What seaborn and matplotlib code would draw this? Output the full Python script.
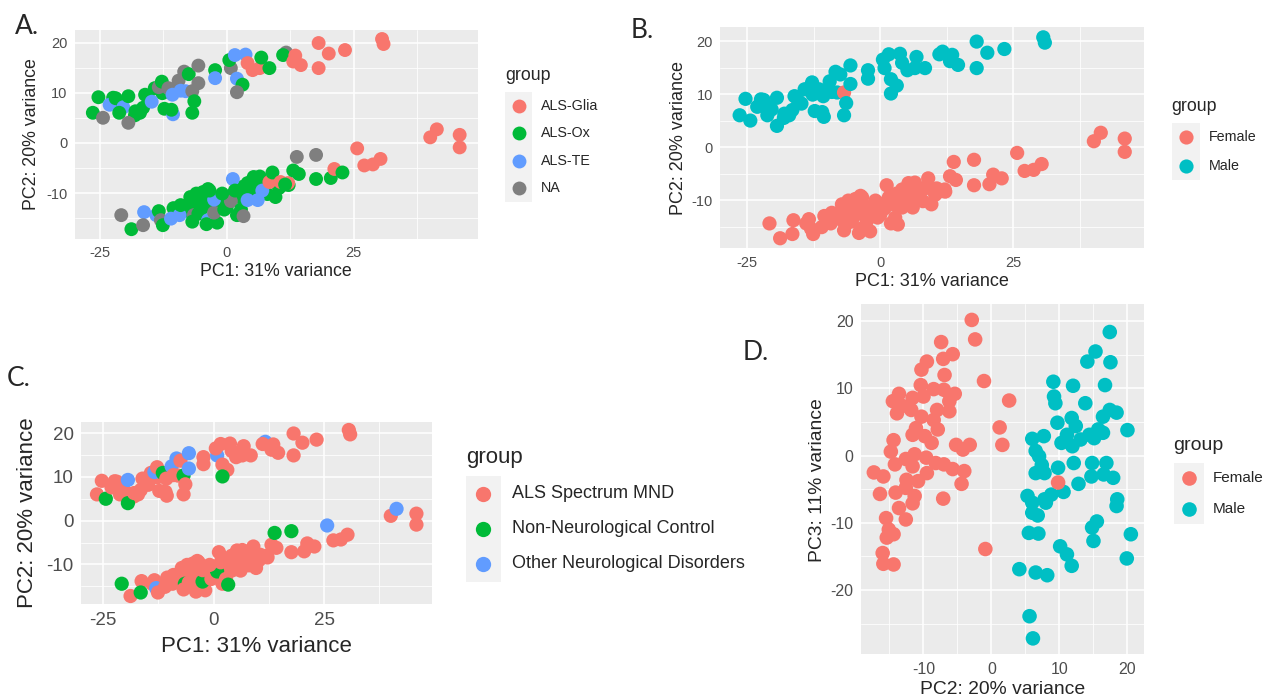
import matplotlib
matplotlib.use("Agg")
import matplotlib.pyplot as plt
import pandas as pd
import seaborn as sns
from matplotlib.patches import Rectangle
from matplotlib.lines import Line2D

# ---------------------------------------------------------------------------
# PCA scores (PC1 / PC2) of the samples, split by the two branches of the plot
# Codes: subgroup  G=ALS-Glia, O=ALS-Ox, T=ALS-TE, N=NA
#        diagnosis M=ALS Spectrum MND, C=Non-Neurological Control,
#                  D=Other Neurological Disorders
#        sex       m=Male, f=Female
# ---------------------------------------------------------------------------
upper_pc1 = [-22.4, -21.0, -18.1, -15.4, -14.2, -12.7, -10.3, -16.5,
             -26.4, -25.3, -24.4, -23.1, -21.9, -20.4, -21.2, -19.4, -19.4, -18.0,
             -17.1, -16.1, -14.8, -13.4, -12.8, -12.3, -11.5, -10.7, -10.6, -10.9,
             -9.5, -8.4, -7.5, -9.1, -8.1, -6.8, -6.4, -6.8, -5.6, -5.6,
             -2.3, -2.3, 0.8, 0.5, 1.6, 2.0, 3.1, 2.0, 3.7, 4.1,
             5.1, 6.5, 6.8, 8.4, 11.7, 11.1, 13.5, 13.1, 14.6, 18.1,
             18.1, 20.1, 23.3, 30.6, 30.9]
upper_pc2 = [9.0, 7.6, 5.5, 8.7, 10.9, 9.9, 10.5, 7.0,
             6.0, 9.1, 5.0, 7.6, 8.9, 7.1, 6.0, 9.3, 4.0, 6.3,
             6.0, 9.6, 8.2, 11.1, 12.2, 6.8, 10.9, 9.6, 5.7, 6.6,
             12.4, 14.2, 13.7, 10.4, 10.3, 10.3, 8.3, 6.0, 15.4, 11.9,
             14.5, 12.9, 14.9, 16.5, 17.5, 12.8, 11.6, 10.1, 17.6, 15.9,
             14.5, 14.9, 17.0, 14.9, 18.0, 17.5, 17.4, 16.2, 15.5, 19.9,
             14.9, 17.8, 18.5, 20.7, 19.7]
upper_subgroup = ("OOOOOOOO"
                  "OONTOTOONO"
                  "OOTNOONTTO"
                  "NNOTTNOONN"
                  "OTNOTTONTG"
                  "GGOONOGGGG"
                  "GGGGG")
upper_diagnosis = ("MMMMMMMM"
                   "MMCMMMMDCM"
                   "MMMDMMCMMM"
                   "DDMMMCMMDD"
                   "MMDMMMMCMM"
                   "MMMMDMMMMM"
                   "MMMMM")
upper_sex = ("mmmmmmmm"
             "mmmmmmmmmm"
             "mmmmmmmmmm"
             "mmmmmfmmmm"
             "mmmmmmmmmm"
             "mmmmmmmmmm"
             "mmmmm")

lower_pc1 = [-8.0, -6.0, -4.5, -3.0, -1.5, 0.0, 1.0, 2.5, 3.0, 4.5, 5.5,
             6.2, 7.2, -5.0, -7.5, -10.5, -3.7, 8.0, 10.3, 12.2, 2.0, 6.5,
             -20.8, -18.8, -16.3, -16.5, -13.9, -13.4, -13.0, -12.6, -11.0, -9.3,
             -9.1, -6.5, -6.8, -5.6, -3.7, -4.0, -1.9, -2.5, -2.5, -0.5,
             0.8, 2.8, 3.3, 1.2, 1.6, -7.2, -6.0, -4.7, -3.4, -0.9,
             4.1, 5.3, 5.9, 4.1, 6.1, 7.0, 8.4, 9.0, 10.6, 12.1,
             9.6, 11.5, 13.1, 14.2, 13.8, 17.6, 17.6, 20.5, 21.2, 22.8,
             25.7, 27.1, 28.8, 30.3, 40.1, 41.4, 45.9, 45.9]
lower_pc2 = [-12.5, -12.0, -11.5, -12.6, -12.0, -12.8, -10.5, -10.8, -8.8, -9.6, -10.2,
             -7.6, -8.6, -13.2, -13.6, -13.0, -9.2, -10.2, -9.0, -8.4, -14.4, -6.7,
             -14.4, -17.2, -13.8, -16.4, -14.4, -13.6, -15.4, -16.4, -15.1, -14.4,
             -12.4, -14.4, -15.7, -14.1, -15.4, -16.2, -15.9, -13.9, -11.3, -13.3,
             -11.6, -13.3, -14.6, -7.2, -9.5, -10.8, -10.1, -9.8, -9.5, -10.1,
             -8.0, -6.8, -8.5, -11.4, -11.4, -9.5, -7.8, -5.9, -7.8, -8.0,
             -10.8, -8.3, -5.5, -6.2, -2.8, -2.4, -7.2, -7.0, -5.2, -5.9,
             -1.1, -4.5, -4.3, -3.2, 1.1, 2.7, 1.6, -0.9]
lower_subgroup = ("OOOOOOOOOOO"
                  "OOOOOOOOOOO"
                  "NOTNTONOTT"
                  "ONOOTOONTO"
                  "NONTOOOOOO"
                  "OOOTTTGOGG"
                  "OOOONNOOGO"
                  "GGGGGGGG")
lower_diagnosis = ("MMMMMMMMMMM"
                   "MMMMMMMMMMM"
                   "CMMCMMDMMM"
                   "MCMMMMMCMM"
                   "CMCMMMMMMM"
                   "MMMMMMMMMM"
                   "MMMMCCMMMM"
                   "DMMMMDMM")
lower_sex = ("fffffffffff"
             "fffffffffff"
             "ffffffffff"
             "ffffffffff"
             "ffffffffff"
             "ffffffffff"
             "ffffffffff"
             "ffffffff")

# PC2 / PC3 scores used for the sex comparison panel
d_female_pc2 = [-2.9, -2.4, -7.4, -5.7, -7.1, -9.5, -10.3, -6.9, -1.1, -10.4,
                -13.6, -8.5, -10.0, -7.0, -5.4, -11.6, -14.5, -13.1, -6.2, 2.6,
                -13.9, -11.8, -8.0, -6.2, -10.3, -8.5, -11.1, 1.2, -7.9, -11.6,
                -9.8, -14.4, -8.8, -5.2, -3.2, 1.6, -14.8, -11.3, -12.6, -9.6,
                -4.2, -11.6, -14.2, -8.2, -7.0, -5.7, -4.0, -17.3, -15.9, -9.5,
                -12.5, -10.8, -4.4, -12.6, -16.4, -14.1, -11.3, -7.1, -11.6, -13.6,
                -15.5, -12.6, -15.1, -14.4, -15.4, -0.9, -16.0, -15.9, -14.4, 9.8]
d_female_pc3 = [20.2, 17.3, 16.9, 15.1, 14.4, 14.0, 12.8, 12.0, 11.1, 10.5,
                9.2, 9.9, 8.8, 9.8, 9.2, 8.6, 8.1, 7.4, 8.1, 8.2,
                6.3, 6.8, 6.8, 6.6, 5.8, 5.3, 4.1, 4.2, 3.9, 3.1,
                2.9, 2.3, 1.9, 1.6, 1.6, 1.6, 0.6, 0.2, -0.5, -0.3,
                0.9, -1.6, -1.3, -1.1, -1.3, -2.0, -2.3, -2.5, -3.1, -2.6,
                -3.6, -3.8, -4.2, -4.8, -5.7, -5.5, -6.0, -6.4, -7.1, -7.8,
                -9.3, -9.5, -11.0, -11.7, -12.2, -13.9, -14.5, -16.1, -16.2, -4.0]
d_male_pc2 = [17.4, 15.3, 14.1, 17.5, 9.1, 12.0, 16.7, 9.2, 9.4, 13.8,
              17.4, 18.4, 16.4, 11.8, 9.7, 12.4, 20.0, 15.7, 7.7, 6.0,
              11.1, 14.4, 13.1, 10.3, 11.9, 15.1, 16.4, 6.5, 7.0, 7.4,
              12.1, 14.8, 16.9, 9.8, 6.5, 7.8, 14.7, 16.5, 17.9, 12.8,
              10.6, 8.8, 7.8, 5.3, 6.0, 8.0, 6.0, 6.8, 18.5, 18.4,
              15.5, 14.8, 5.5, 6.9, 20.5, 10.1, 11.1, 15.0, 19.9, 4.1,
              6.5, 8.2, 11.8, 5.6, 6.1]
d_male_pc3 = [18.4, 15.5, 14.0, 13.9, 11.0, 10.4, 10.5, 8.8, 7.8, 7.8,
              6.8, 6.4, 5.8, 5.6, 4.9, 4.4, 3.8, 3.9, 2.9, 2.5,
              3.1, 3.1, 2.4, 1.9, 1.4, 2.6, 3.4, 0.7, -0.1, -1.4,
              -1.1, -1.1, -1.1, -1.8, -2.6, -2.6, -3.1, -2.8, -3.3, -4.2,
              -5.4, -5.8, -6.5, -6.0, -7.0, -7.0, -8.5, -8.9, -6.5, -7.5,
              -9.8, -10.7, -11.5, -11.6, -11.7, -13.5, -14.7, -12.7, -15.3, -16.9,
              -17.4, -17.8, -16.4, -23.9, -27.2]

subgroup_names = {"G": "ALS-Glia", "O": "ALS-Ox", "T": "ALS-TE", "N": "NA"}
diagnosis_names = {"M": "ALS Spectrum MND", "C": "Non-Neurological Control",
                   "D": "Other Neurological Disorders"}
sex_names = {"m": "Male", "f": "Female"}

subgroup_levels = ["ALS-Glia", "ALS-Ox", "ALS-TE", "NA"]
diagnosis_levels = ["ALS Spectrum MND", "Non-Neurological Control",
                    "Other Neurological Disorders"]
sex_levels = ["Female", "Male"]

subgroup_colors = ["#F8766D", "#00BA38", "#619CFF", "#7F7F7F"]
diagnosis_colors = ["#F8766D", "#00BA38", "#619CFF"]
sex_colors = ["#F8766D", "#00BFC4"]

# ---------------------------------------------------------------------------
samples = pd.DataFrame({
    "PC1": upper_pc1 + lower_pc1,
    "PC2": upper_pc2 + lower_pc2,
    "subgroup": [subgroup_names[c] for c in upper_subgroup + lower_subgroup],
    "diagnosis": [diagnosis_names[c] for c in upper_diagnosis + lower_diagnosis],
    "sex": [sex_names[c] for c in upper_sex + lower_sex],
})
pc23 = pd.DataFrame({
    "PC2": d_male_pc2 + d_female_pc2,
    "PC3": d_male_pc3 + d_female_pc3,
    "sex": ["Male"] * len(d_male_pc2) + ["Female"] * len(d_female_pc2),
})

W, H = 1267, 699
sns.set_style("white")
plt.rcParams["font.family"] = ["Liberation Sans", "DejaVu Sans"]
plt.rcParams["axes.unicode_minus"] = False

fig = plt.figure(figsize=(W / 100, H / 100), dpi=100)
fig.patch.set_facecolor("white")


def panel(left, top, right, bottom):
    return fig.add_axes([left / W, 1 - bottom / H, (right - left) / W, (bottom - top) / H])


def expanded(values, frac=0.05):
    lo, hi = min(values), max(values)
    pad = (hi - lo) * frac
    return lo - pad, hi + pad


def style_axes(ax, xmaj, xmin, ymaj, ymin, tick_fs):
    ax.set_facecolor("#EBEBEB")
    for s in ax.spines.values():
        s.set_visible(False)
    ax.set_xticks(xmaj)
    ax.set_xticks(xmin, minor=True)
    ax.set_yticks(ymaj)
    ax.set_yticks(ymin, minor=True)
    ax.grid(which="major", color="white", lw=1.1)
    ax.grid(which="minor", color="white", lw=0.55)
    ax.set_axisbelow(True)
    ax.tick_params(which="major", length=2.8, width=0.8, color="#333333",
                   labelsize=tick_fs, labelcolor="#4D4D4D", pad=2.5)
    ax.tick_params(which="minor", length=0)
    ax.set_xlabel("")
    ax.set_ylabel("")


def ftext(x, y, s, **kw):
    fig.text(x / W, 1 - y / H, s, **kw)


def legend(title, labels, colors, x0, title_y, key_top, key_w, key_h, label_x,
           title_fs, label_fs, ms):
    ftext(x0, title_y, title, ha="left", va="center", fontsize=title_fs)
    for i, (lab, col) in enumerate(zip(labels, colors)):
        top = key_top + i * key_h
        fig.add_artist(Rectangle((x0 / W, 1 - (top + key_h) / H), key_w / W, key_h / H,
                                 transform=fig.transFigure, facecolor="#F2F2F2",
                                 edgecolor="none"))
        cy = top + key_h / 2
        fig.add_artist(Line2D([(x0 + key_w / 2) / W], [1 - cy / H], marker="o", ms=ms,
                              color=col, mec="none", ls="none",
                              transform=fig.transFigure))
        ftext(label_x, cy, lab, ha="left", va="center", fontsize=label_fs)


pc_xt, pc_xm = [-25, 0, 25], [-12.5, 12.5, 37.5]
pc_yt, pc_ym = [-10, 0, 10, 20], [-15, -5, 5, 15]
xlim12 = expanded(samples["PC1"])
ylim12 = expanded(samples["PC2"])
letter_font = ["Lato", "DejaVu Sans"]

# ---- A: ALS subgroup ----
axA = panel(74.5, 29.5, 478, 238.7)
sns.scatterplot(data=samples, x="PC1", y="PC2", hue="subgroup",
                hue_order=subgroup_levels, palette=subgroup_colors,
                s=100, linewidth=0, alpha=1, legend=False, ax=axA)
axA.set_xlim(*xlim12)
axA.set_ylim(*ylim12)
style_axes(axA, pc_xt, pc_xm, pc_yt, pc_ym, 10.5)
ftext(276, 272, "PC1: 31% variance", ha="center", va="center", fontsize=12.8)
ftext(31, 134, "PC2: 20% variance", ha="center", va="center", rotation=90, fontsize=12.8)
legend("group", subgroup_levels, subgroup_colors, 505, 75, 92, 27, 27.5, 541,
       12.8, 10.3, 10)
ftext(15, 27, "A.", ha="left", va="center", fontsize=19, family=letter_font)

# ---- B: sex ----
axB = panel(720.4, 27.3, 1144, 248.3)
sns.scatterplot(data=samples, x="PC1", y="PC2", hue="sex",
                hue_order=sex_levels, palette=sex_colors,
                s=105, linewidth=0, alpha=1, legend=False, ax=axB)
axB.set_xlim(*xlim12)
axB.set_ylim(*ylim12)
style_axes(axB, pc_xt, pc_xm, pc_yt, pc_ym, 10.5)
ftext(932, 282, "PC1: 31% variance", ha="center", va="center", fontsize=13)
ftext(678, 138, "PC2: 20% variance", ha="center", va="center", rotation=90, fontsize=13)
legend("group", sex_levels, sex_colors, 1171.7, 106.7, 123.3, 28, 28.35, 1208.8,
       12.8, 10.3, 10.2)
ftext(631, 31, "B.", ha="left", va="center", fontsize=19, family=letter_font)

# ---- C: diagnosis ----
axC = panel(81, 421.7, 432.4, 604.3)
sns.scatterplot(data=samples, x="PC1", y="PC2", hue="diagnosis",
                hue_order=diagnosis_levels, palette=diagnosis_colors,
                s=105, linewidth=0, alpha=1, legend=False, ax=axC)
axC.set_xlim(*xlim12)
axC.set_ylim(*ylim12)
style_axes(axC, pc_xt, pc_xm, pc_yt, pc_ym, 13.5)
ftext(256, 646, "PC1: 31% variance", ha="center", va="center", fontsize=16)
ftext(28, 513, "PC2: 20% variance", ha="center", va="center", rotation=90, fontsize=16)
legend("group", diagnosis_levels, diagnosis_colors, 465.7, 457.3, 476, 35.3, 35.2,
       512.3, 16, 13, 11)
ftext(7, 378, "C.", ha="left", va="center", fontsize=19, family=letter_font)

# ---- D: PC2 vs PC3 by sex ----
axD = panel(861, 304, 1143.7, 654.3)
sns.scatterplot(data=pc23, x="PC2", y="PC3", hue="sex",
                hue_order=sex_levels, palette=sex_colors,
                s=110, linewidth=0, alpha=1, legend=False, ax=axD)
axD.set_xlim(*expanded(pc23["PC2"]))
axD.set_ylim(*expanded(pc23["PC3"]))
style_axes(axD, [-10, 0, 10, 20], [-15, -5, 5, 15],
           [-20, -10, 0, 10, 20], [-25, -15, -5, 5, 15], 11.5)
ftext(1003, 690, "PC2: 20% variance", ha="center", va="center", fontsize=13.9)
ftext(817, 480, "PC3: 11% variance", ha="center", va="center", rotation=90, fontsize=13.9)
legend("group", sex_levels, sex_colors, 1173.5, 445, 463, 30.8, 30.5, 1212.9,
       14, 11, 10.5)
ftext(743, 352, "D.", ha="left", va="center", fontsize=19, family=letter_font)

fig.savefig("out.png", dpi=100)
